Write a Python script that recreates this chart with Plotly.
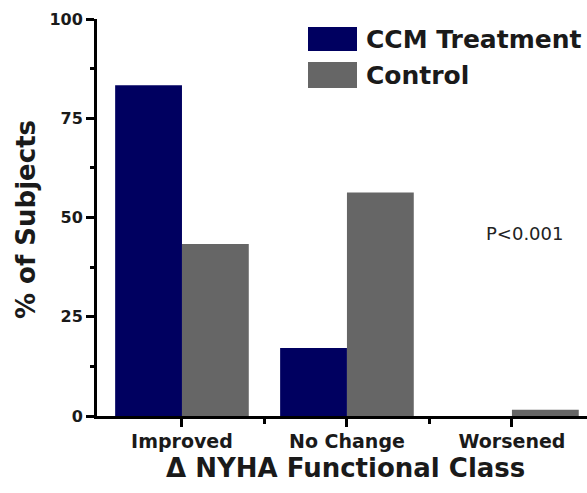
import plotly.graph_objects as go

categories = ["Improved", "No Change", "Worsened"]
ccm_treatment = [83.3, 17.1, 0.0]
control = [43.3, 56.3, 1.6]
series_names = ["CCM Treatment", "Control"]
y_ticks = [0, 25, 50, 75, 100]

NAVY = "#000060"
GREY = "#666666"
FONT = "DejaVu Sans, Arial, sans-serif"
TXT = "#1a1a1a"

W, H = 587, 493
L, R, T, B = 97, 0, 19, 77
PW, PH = W - L - R, H - T - B

def px(xp):
    return (xp - L) / PW

def py(yp):
    return (H - B - yp) / PH

xs = list(range(len(categories)))

fig = go.Figure()
fig.add_trace(go.Bar(x=xs, y=ccm_treatment, name=series_names[0],
                     marker=dict(color=NAVY, line=dict(width=0))))
fig.add_trace(go.Bar(x=xs, y=control, name=series_names[1],
                     marker=dict(color=GREY, line=dict(width=0))))

fig.update_layout(
    width=W, height=H,
    margin=dict(l=L, r=R, t=T, b=B, pad=0),
    paper_bgcolor="white", plot_bgcolor="white",
    barmode="group", bargap=0.19, bargroupgap=0,
    showlegend=False,
    font=dict(family=FONT, color=TXT),
)
fig.update_xaxes(
    range=[-0.515, 2.455], tickvals=xs, ticktext=categories,
    showline=True, linecolor="black", linewidth=3,
    ticks="outside", ticklen=8, tickwidth=2.5, tickcolor="black",
    tickfont=dict(size=19, family=FONT, color=TXT, weight="bold"),
    ticklabelstandoff=-2,
    showgrid=False, zeroline=False,
    minor=dict(ticks="outside", ticklen=5, tickwidth=2.5, tickcolor="black",
               tickvals=[0.5, 1.5], showgrid=False),
)
fig.update_yaxes(
    range=[0, 100], tickvals=y_ticks,
    showline=True, linecolor="black", linewidth=3,
    ticks="outside", ticklen=8, tickwidth=2.5, tickcolor="black",
    tickfont=dict(size=16, family=FONT, color=TXT, weight="bold"),
    showgrid=False, zeroline=False,
    minor=dict(ticks="outside", ticklen=4, tickwidth=2.5, tickcolor="black",
               tickvals=[12.5, 37.5, 62.5, 87.5], showgrid=False),
)

# axis titles
fig.add_annotation(text="% of Subjects", xref="paper", yref="paper",
                   x=px(26), y=py(220), textangle=-90, showarrow=False,
                   xanchor="center", yanchor="middle",
                   font=dict(size=26, family=FONT, color=TXT, weight="bold"))
fig.add_annotation(text="Δ NYHA Functional Class", xref="paper", yref="paper",
                   x=px(345), y=py(468), showarrow=False,
                   xanchor="center", yanchor="middle",
                   font=dict(size=26, family=FONT, color=TXT, weight="bold"))
fig.add_annotation(text="P<0.001", xref="paper", yref="paper",
                   x=px(524), y=py(233), showarrow=False,
                   xanchor="center", yanchor="middle",
                   font=dict(size=18, family=FONT, color="#222222"))

# custom legend
legend_rows = [(series_names[0], NAVY, 27, 51, 39), (series_names[1], GREY, 62, 88, 75)]
for name, col, y0, y1, yc in legend_rows:
    fig.add_shape(type="rect", xref="paper", yref="paper",
                  x0=px(308), x1=px(357), y0=py(y1), y1=py(y0),
                  fillcolor=col, line=dict(width=0))
    fig.add_annotation(text=name, xref="paper", yref="paper",
                       x=px(364), y=py(yc), showarrow=False,
                       xanchor="left", yanchor="middle",
                       font=dict(size=25, family=FONT, color=TXT, weight="bold"))

fig.write_html("out.html")
